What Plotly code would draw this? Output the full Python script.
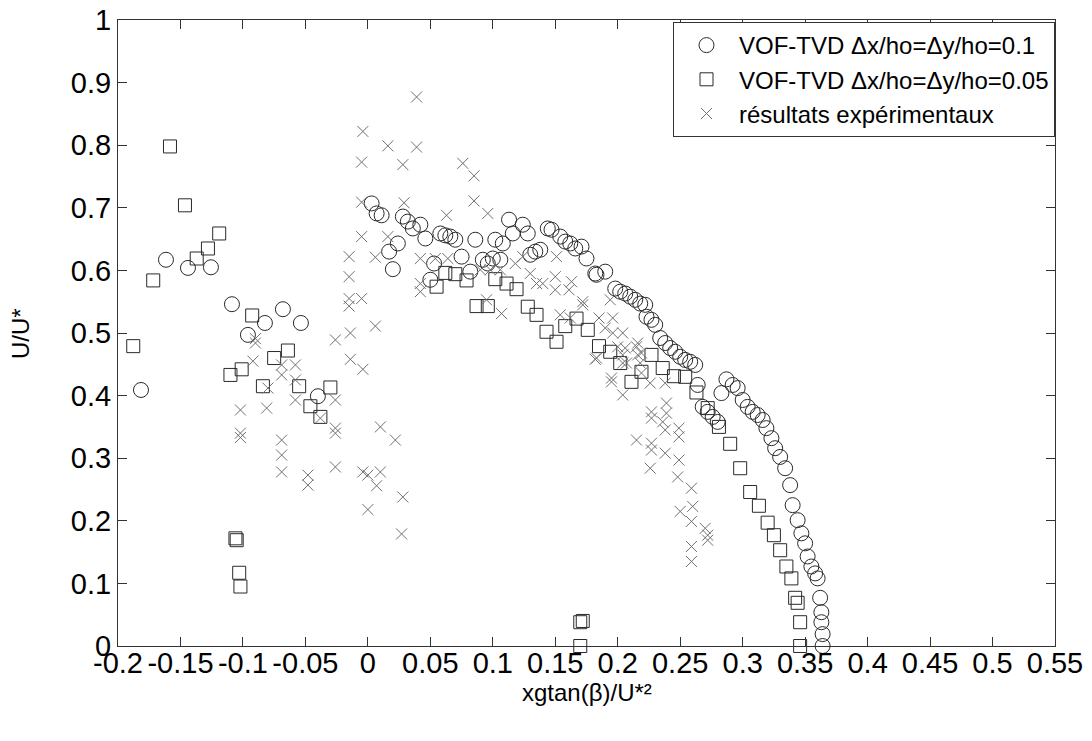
import plotly.graph_objects as go

# Series 1: VOF-TVD dx/ho=dy/ho=0.1 (circles)
vof01_x = [-0.1816, -0.1616, -0.144, -0.1256, -0.1088, -0.096, -0.0824, -0.068, -0.0536, -0.04,
           0.003, 0.007, 0.011, 0.017, 0.024, 0.020, 0.028, 0.032, 0.036, 0.042, 0.046, 0.050, 0.053,
           0.058, 0.062, 0.066, 0.070, 0.075, 0.082, 0.086, 0.092, 0.096, 0.100, 0.106, 0.102, 0.108,
           0.113, 0.116, 0.124, 0.128, 0.130, 0.134, 0.138, 0.144, 0.147, 0.154, 0.158, 0.162, 0.166,
           0.171, 0.175, 0.182, 0.183, 0.190, 0.198, 0.202, 0.206, 0.210, 0.214, 0.218, 0.222, 0.223,
           0.227, 0.230, 0.234, 0.238, 0.242, 0.246, 0.250, 0.254, 0.258, 0.262, 0.264, 0.268, 0.272,
           0.276, 0.280, 0.283, 0.287, 0.292, 0.296, 0.300, 0.304, 0.308, 0.312, 0.316, 0.319, 0.323,
           0.326, 0.330, 0.334, 0.338, 0.340, 0.344, 0.347, 0.350, 0.352, 0.355, 0.358, 0.360, 0.362,
           0.363, 0.363, 0.364, 0.364]
vof01_y = [0.409, 0.617, 0.604, 0.605, 0.546, 0.497, 0.516, 0.538, 0.516, 0.399,
           0.707, 0.691, 0.688, 0.630, 0.643, 0.602, 0.686, 0.678, 0.667, 0.673, 0.651, 0.585, 0.611,
           0.659, 0.656, 0.654, 0.649, 0.622, 0.598, 0.649, 0.617, 0.611, 0.619, 0.617, 0.649, 0.643,
           0.681, 0.659, 0.673, 0.659, 0.625, 0.630, 0.633, 0.667, 0.665, 0.654, 0.646, 0.643, 0.635,
           0.638, 0.619, 0.595, 0.593, 0.598, 0.571, 0.566, 0.563, 0.558, 0.553, 0.547, 0.545, 0.526,
           0.521, 0.513, 0.492, 0.484, 0.476, 0.470, 0.462, 0.457, 0.454, 0.449, 0.417, 0.382, 0.374,
           0.366, 0.358, 0.404, 0.426, 0.417, 0.412, 0.393, 0.382, 0.374, 0.369, 0.361, 0.348, 0.332,
           0.316, 0.302, 0.284, 0.257, 0.225, 0.201, 0.180, 0.164, 0.143, 0.127, 0.116, 0.108, 0.077,
           0.054, 0.038, 0.019, 0.0]

# Series 2: VOF-TVD dx/ho=dy/ho=0.05 (squares)
vof005_x = [-0.1584, -0.1464, -0.119, -0.128, -0.137, -0.1718, -0.1878, -0.0926, -0.110, -0.101,
            -0.075, -0.064, -0.084, -0.055, -0.030, -0.046, -0.038, -0.106, -0.105, -0.103, -0.102,
            0.170, 0.172, 0.170,
            0.055, 0.062, 0.070, 0.079, 0.087, 0.096, 0.102, 0.111, 0.119, 0.128, 0.135, 0.143, 0.151,
            0.158, 0.167, 0.176, 0.185, 0.194, 0.202, 0.211, 0.219, 0.227, 0.236, 0.245, 0.254, 0.263,
            0.272, 0.281, 0.290, 0.298, 0.306, 0.313, 0.320, 0.325, 0.330, 0.335, 0.339, 0.342, 0.344,
            0.346, 0.346]
vof005_y = [0.798, 0.704, 0.659, 0.635, 0.619, 0.584, 0.479, 0.528, 0.433, 0.442,
            0.460, 0.472, 0.415, 0.415, 0.413, 0.383, 0.366, 0.172, 0.169, 0.117, 0.095,
            0.038, 0.040, 0.0,
            0.574, 0.596, 0.594, 0.584, 0.543, 0.543, 0.586, 0.579, 0.570, 0.542, 0.529, 0.502, 0.486,
            0.511, 0.523, 0.505, 0.479, 0.470, 0.452, 0.422, 0.438, 0.465, 0.444, 0.431, 0.430, 0.405,
            0.380, 0.350, 0.323, 0.284, 0.246, 0.224, 0.197, 0.177, 0.153, 0.127, 0.108, 0.077, 0.069,
            0.038, 0.0]

# Series 3: experimental results (crosses)
exp_x = [-0.090, -0.090, -0.092, -0.069, -0.069, -0.058, -0.058, -0.058, -0.080, -0.081, -0.069,
         -0.069, -0.069, -0.102, -0.102, -0.102, -0.048, -0.048, -0.038, -0.026, -0.026, -0.026,
         -0.026, -0.026, -0.014, -0.014, -0.004, 0.000, 0.000, 0.010, 0.010, 0.007, -0.004, 0.006,
         -0.004, -0.005, 0.016, -0.005, -0.005, 0.006, -0.015, -0.015, -0.015, -0.015, -0.005,
         0.039, 0.039, 0.028, 0.076, 0.085, 0.029, 0.085, 0.063, 0.096, 0.016, 0.042, 0.054, 0.064,
         0.042, 0.042, 0.090, 0.098, 0.106, 0.095, 0.107, 0.118, 0.124, 0.130, 0.135, 0.140, 0.151,
         0.150, 0.150, 0.161, 0.163, 0.172, 0.172, 0.154, 0.162, 0.185, 0.196, 0.194, 0.190, 0.196,
         0.204, 0.200, 0.204, 0.215, 0.219, 0.183, 0.207, 0.218,
         0.206, 0.204, 0.204, 0.216, 0.216, 0.219, 0.226, 0.238, 0.239, 0.239, 0.227, 0.227, 0.236,
         0.238, 0.249, 0.249, 0.215, 0.227, 0.227, 0.238, 0.249, 0.226, 0.248, 0.259, 0.250, 0.260,
         0.259, 0.270, 0.272, 0.272, 0.259, 0.259,
         0.022, 0.028, 0.027, 0.195, 0.195, 0.182]
exp_y = [0.491, 0.484, 0.455, 0.449, 0.433, 0.449, 0.425, 0.393, 0.412, 0.380, 0.329,
         0.305, 0.278, 0.377, 0.340, 0.333, 0.273, 0.257, 0.364, 0.489, 0.393, 0.348,
         0.340, 0.286, 0.500, 0.458, 0.278, 0.273, 0.218, 0.350, 0.278, 0.256, 0.442, 0.511,
         0.822, 0.773, 0.799, 0.709, 0.654, 0.621, 0.622, 0.590, 0.555, 0.543, 0.555,
         0.877, 0.797, 0.769, 0.771, 0.751, 0.708, 0.711, 0.688, 0.691, 0.654, 0.619, 0.619, 0.619,
         0.579, 0.566, 0.601, 0.601, 0.601, 0.553, 0.531, 0.611, 0.622, 0.595, 0.579, 0.579, 0.622,
         0.590, 0.569, 0.569, 0.582, 0.550, 0.545, 0.529, 0.524, 0.524, 0.524, 0.553, 0.508, 0.500,
         0.500, 0.478, 0.465, 0.478, 0.468, 0.460, 0.452, 0.452,
         0.476, 0.452, 0.401, 0.484, 0.465, 0.436, 0.420, 0.420, 0.388, 0.372, 0.374, 0.364, 0.358,
         0.345, 0.348, 0.334, 0.329, 0.324, 0.313, 0.308, 0.297, 0.284, 0.270, 0.252, 0.215, 0.223,
         0.199, 0.188, 0.177, 0.169, 0.159, 0.135,
         0.329, 0.238, 0.179, 0.428, 0.422, 0.458]

x_ticks = [-0.2, -0.15, -0.1, -0.05, 0, 0.05, 0.1, 0.15, 0.2, 0.25, 0.3, 0.35, 0.4, 0.45, 0.5, 0.55]
x_tick_labels = ["-0.2", "-0.15", "-0.1", "-0.05", "0", "0.05", "0.1", "0.15", "0.2", "0.25",
                 "0.3", "0.35", "0.4", "0.45", "0.5", "0.55"]
y_ticks = [0, 0.1, 0.2, 0.3, 0.4, 0.5, 0.6, 0.7, 0.8, 0.9, 1]
y_tick_labels = ["0", "0.1", "0.2", "0.3", "0.4", "0.5", "0.6", "0.7", "0.8", "0.9", "1"]

FONT = "Arial, Liberation Sans, sans-serif"

fig = go.Figure()
fig.add_trace(go.Scatter(
    x=vof01_x, y=vof01_y, mode="markers", name="VOF-TVD \u0394x/ho=\u0394y/ho=0.1",
    marker=dict(symbol="circle-open", size=15, color="#2a2a2a", line=dict(width=1)),
    cliponaxis=False))
fig.add_trace(go.Scatter(
    x=vof005_x, y=vof005_y, mode="markers", name="VOF-TVD \u0394x/ho=\u0394y/ho=0.05",
    marker=dict(symbol="square-open", size=13, color="#2a2a2a", line=dict(width=1)),
    cliponaxis=False))
fig.add_trace(go.Scatter(
    x=exp_x, y=exp_y, mode="markers", name="résultats expérimentaux",
    marker=dict(symbol="x-thin-open", size=11, color="#707070", line=dict(width=1, color="#707070")),
    cliponaxis=False))

axis_common = dict(showgrid=False, zeroline=False, showline=True, linecolor="#333333", linewidth=1,
                   mirror="ticks", ticks="inside", ticklen=9, tickcolor="#333333", automargin=False,
                   tickfont=dict(family=FONT, size=29, color="black"))

fig.update_layout(
    width=1092, height=741,
    margin=dict(l=118, r=37, t=20, b=95),
    paper_bgcolor="white", plot_bgcolor="white",
    xaxis=dict(range=[-0.2, 0.55], tickvals=x_ticks, ticktext=x_tick_labels,
               ticklabelstandoff=-9, **axis_common),
    yaxis=dict(range=[0, 1], tickvals=y_ticks, ticktext=y_tick_labels, **axis_common),
    legend=dict(x=1, xanchor="right", y=0.9968, yanchor="top", bgcolor="white",
                bordercolor="#333333", borderwidth=1, itemwidth=55,
                font=dict(family=FONT, size=24, color="black"), tracegroupgap=0),
    annotations=[
        dict(text="xgtan(\u03b2)/U*\u00b2", xref="paper", yref="paper", x=0.5, y=-0.075,
             xanchor="center", yanchor="middle", showarrow=False,
             font=dict(family=FONT, size=24, color="black")),
        dict(text="U/U*", xref="paper", yref="paper", x=-0.1046, y=0.5, textangle=-90,
             xanchor="center", yanchor="middle", showarrow=False,
             font=dict(family=FONT, size=24, color="black")),
    ],
)

fig.write_html("out.html", config={"displayModeBar": False},
               post_script="document.body.style.margin='0px';document.body.style.overflow='hidden';")
